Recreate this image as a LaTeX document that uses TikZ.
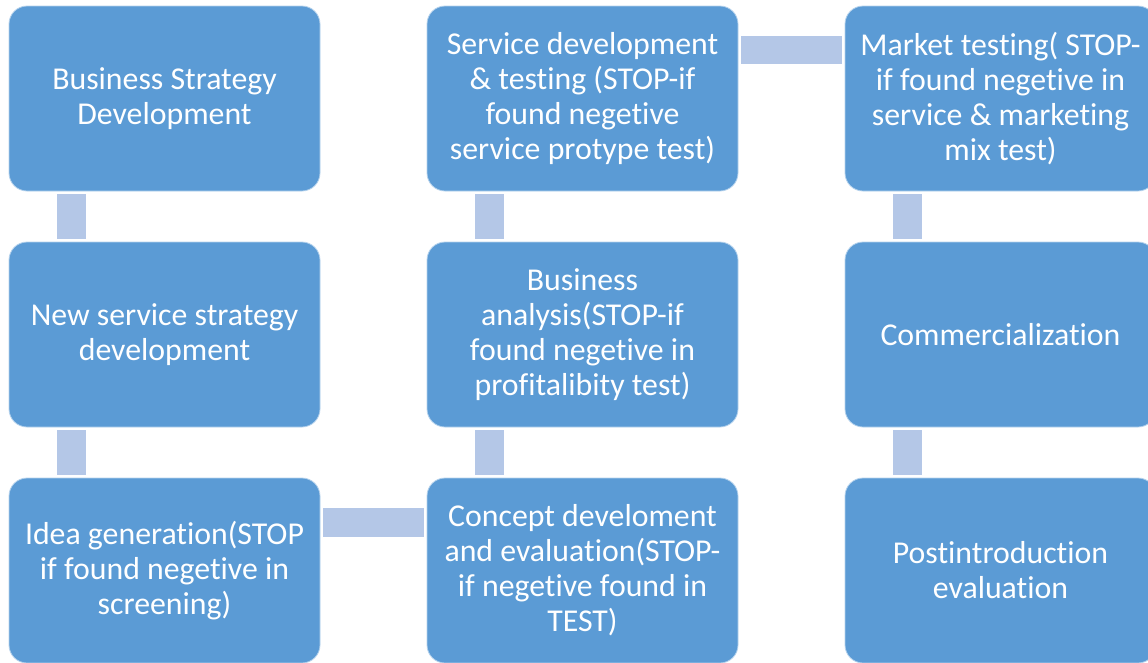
\documentclass[tikz,border=0pt]{standalone}
\usepackage{fontspec}
\setmainfont[Ligatures={NoCommon}]{Carlito}
\definecolor{boxblue}{HTML}{5B9BD5}
\definecolor{connblue}{HTML}{B4C7E7}
\begin{document}
\begin{tikzpicture}[x=1pt,y=-1pt,
  stagebox/.style={draw=white!55!boxblue, line width=0.8pt, fill=boxblue, rounded corners=18pt,
    minimum width=311pt, minimum height=185pt, inner sep=0pt, text=white, align=center,
    font=\fontsize{31.8}{35}\selectfont},
  conn/.style={draw=connblue, line width=28.5pt, line cap=butt, shorten <=3pt, shorten >=3pt}]
\useasboundingbox (0,0) rectangle (1148,662);
\clip (0,0) rectangle (1148,662);
\node[stagebox] (b1) at (164.5,98.5) {Business Strategy\\Development};
\node[stagebox] (b2) at (164.5,334.5) {New service strategy\\development};
\node[stagebox] (b3) at (164.5,570.5) {Idea generation(STOP\\if found negetive in\\screening)};
\node[stagebox] (c3) at (582.5,570.5) {Concept develoment\\and evaluation(STOP-\\if negetive found in\\TEST)};
\node[stagebox] (c2) at (582.5,334.5) {Business\\analysis(STOP-if\\found negetive in\\profitalibity test)};
\node[stagebox] (c1) at (582.5,98.5) {Service development\\\& testing (STOP-if\\found negetive\\service protype test)};
\node[stagebox] (d1) at (1000.5,98.5) {Market testing( STOP-\\if found negetive in\\service \& marketing\\mix test)};
\node[stagebox] (d2) at (1000.5,334.5) {Commercialization};
\node[stagebox] (d3) at (1000.5,570.5) {Postintroduction\\evaluation};
\draw[conn] ([xshift=-93pt]b1.south) -- ([xshift=-93pt]b2.north);
\draw[conn] ([xshift=-93pt]b2.south) -- ([xshift=-93pt]b3.north);
\draw[conn] ([yshift=48pt]b3.east) -- ([yshift=48pt]c3.west);
\draw[conn] ([xshift=-93pt]c3.north) -- ([xshift=-93pt]c2.south);
\draw[conn] ([xshift=-93pt]c2.north) -- ([xshift=-93pt]c1.south);
\draw[conn] ([yshift=48.5pt]c1.east) -- ([yshift=48.5pt]d1.west);
\draw[conn] ([xshift=-93pt]d1.south) -- ([xshift=-93pt]d2.north);
\draw[conn] ([xshift=-93pt]d2.south) -- ([xshift=-93pt]d3.north);
\end{tikzpicture}
\end{document}
